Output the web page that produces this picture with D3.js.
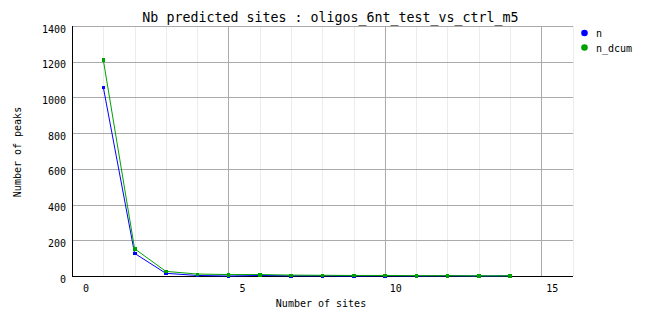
<!DOCTYPE html>
<html>
<head>
<meta charset="utf-8">
<script src="https://cdn.jsdelivr.net/npm/d3@7"></script>
<style>
  body { margin: 0; background: #fff; }
  text { font-family: "DejaVu Sans Mono", monospace; fill: #000; }
</style>
</head>
<body>
<svg id="chart" width="662" height="328"></svg>
<script>
const title = "Nb predicted sites : oligos_6nt_test_vs_ctrl_m5";
const xLabel = "Number of sites";
const yLabel = "Number of peaks";
const sites = [1, 2, 3, 4, 5, 6, 7, 8, 9, 10, 11, 12, 13, 14];
const seriesN = [1058, 127, 15, 3, 0, 3, 1, 1, 0, 1, 0, 1, 0, 1];
const seriesNdcum = [1211, 153, 26, 11, 8, 8, 5, 4, 3, 3, 2, 2, 1, 1];
const seriesNames = ["n", "n_dcum"];
const seriesColors = ["#0000ff", "#00a000"];
const xTicks = [0, 5, 10, 15];
const xMinorTicks = [1, 2, 3, 4, 6, 7, 8, 9, 11, 12, 13, 14, 16];
const yTicks = [0, 200, 400, 600, 800, 1000, 1200, 1400];

const svg = d3.select("#chart");
const x = d3.scaleLinear().domain([0, 16]).range([72, 572.5]);
const y = d3.scaleLinear().domain([0, 1400]).range([276, 26]);

const g = svg.append("g").attr("shape-rendering", "crispEdges");

// minor vertical grid
g.selectAll(".minor").data(xMinorTicks).enter().append("line")
  .attr("x1", d => Math.round(x(d)) + 0.5).attr("x2", d => Math.round(x(d)) + 0.5)
  .attr("y1", y(1400)).attr("y2", y(0))
  .attr("stroke", "#ececec");

// major vertical grid
g.selectAll(".vmajor").data(xTicks.filter(d => d > 0)).enter().append("line")
  .attr("x1", d => Math.round(x(d)) + 0.5).attr("x2", d => Math.round(x(d)) + 0.5)
  .attr("y1", y(1400)).attr("y2", y(0))
  .attr("stroke", "#aaaaaa");

// horizontal grid
g.selectAll(".hmajor").data(yTicks.filter(d => d > 0)).enter().append("line")
  .attr("x1", x(0)).attr("x2", x(16))
  .attr("y1", d => Math.round(y(d)) + 0.5).attr("y2", d => Math.round(y(d)) + 0.5)
  .attr("stroke", "#aaaaaa");

// axes lines
g.append("line").attr("x1", x(0) + 0.5).attr("x2", x(0) + 0.5)
  .attr("y1", y(1400)).attr("y2", y(0) + 1).attr("stroke", "#000");
g.append("line").attr("x1", x(0)).attr("x2", x(16))
  .attr("y1", y(0) + 0.5).attr("y2", y(0) + 0.5).attr("stroke", "#000");

// tick labels
svg.selectAll(".ylab").data(yTicks).enter().append("text")
  .attr("x", 66).attr("y", d => y(d) + 6.5)
  .attr("text-anchor", "end").attr("font-size", "10px").text(d => d);
svg.selectAll(".xlab").data(xTicks).enter().append("text")
  .attr("x", d => x(d) + 17).attr("y", 292)
  .attr("text-anchor", "end").attr("font-size", "10px").text(d => d);

// titles
svg.append("text").attr("x", 330.5).attr("y", 22).attr("text-anchor", "middle")
  .attr("font-size", "13.3px").text(title);
svg.append("text").attr("x", 321).attr("y", 306.5).attr("text-anchor", "middle")
  .attr("font-size", "10px").text(xLabel);
svg.append("text").attr("transform", "translate(21,152) rotate(-90)")
  .attr("text-anchor", "middle").attr("font-size", "10px").text(yLabel);

// series
const allSeries = [seriesN, seriesNdcum];
const line = d3.line().x((d, i) => x(sites[i])).y(d => y(d));
allSeries.forEach((vals, k) => {
  const sg = svg.append("g");
  sg.append("path").datum(vals).attr("d", line)
    .attr("fill", "none").attr("stroke", seriesColors[k]).attr("stroke-width", 1);
  sg.selectAll("rect").data(vals).enter().append("rect")
    .attr("x", (d, i) => x(sites[i]) - 1.5).attr("y", d => y(d) - 1.5)
    .attr("width", 3.5).attr("height", 3.5)
    .attr("fill", seriesColors[k]).attr("shape-rendering", "crispEdges");
});

// legend
seriesNames.forEach((name, k) => {
  const ly = 33 + k * 14.5;
  svg.append("circle").attr("cx", 584.5).attr("cy", ly).attr("r", 3.3)
    .attr("fill", seriesColors[k]);
  svg.append("text").attr("x", 596).attr("y", ly + 4).attr("font-size", "10px").text(name);
});
</script>
</body>
</html>
